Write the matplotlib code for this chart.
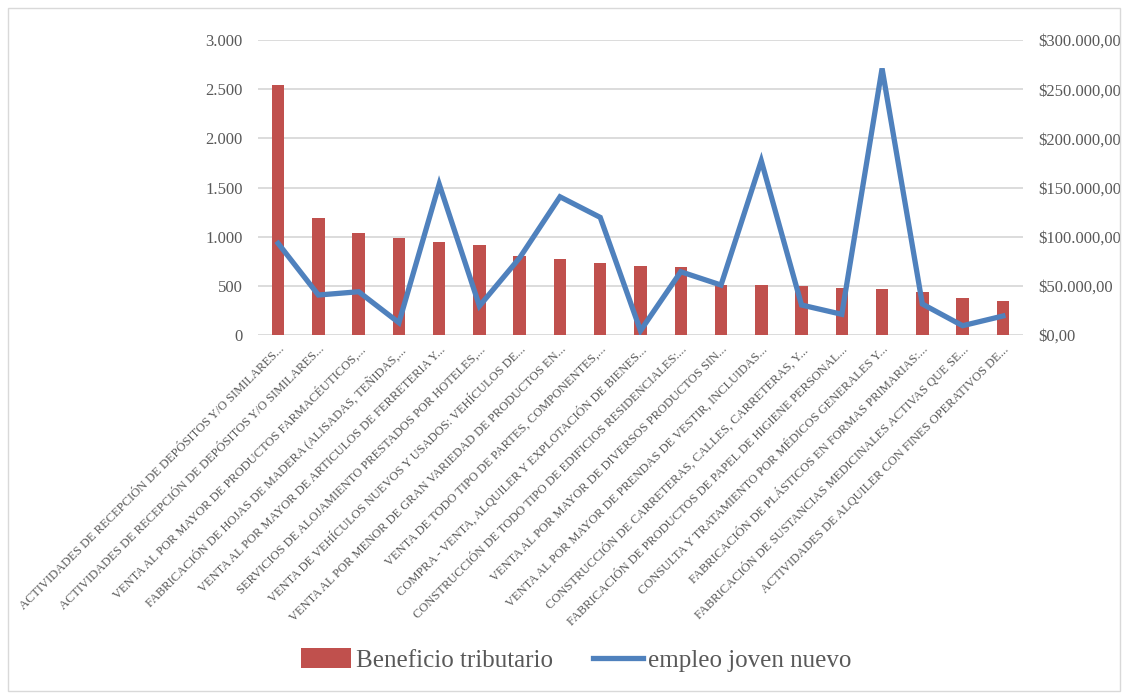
import matplotlib.pyplot as plt
import matplotlib.ticker as mticker
from matplotlib.patches import Rectangle
from matplotlib.lines import Line2D
from matplotlib.patches import Patch

categorias = [
    "ACTIVIDADES DE RECEPCIÓN DE DEPÓSITOS Y/O SIMILARES...",
    "ACTIVIDADES DE RECEPCIÓN DE DEPÓSITOS Y/O SIMILARES...",
    "VENTA AL POR MAYOR DE PRODUCTOS FARMACÉUTICOS,...",
    "FABRICACIÓN DE HOJAS DE MADERA (ALISADAS, TEÑIDAS,...",
    "VENTA AL POR MAYOR DE ARTICULOS DE FERRETERIA Y...",
    "SERVICIOS DE ALOJAMIENTO PRESTADOS POR HOTELES,...",
    "VENTA DE VEHÍCULOS NUEVOS Y USADOS: VEHÍCULOS DE...",
    "VENTA AL POR MENOR DE GRAN VARIEDAD DE PRODUCTOS EN...",
    "VENTA DE TODO TIPO DE PARTES, COMPONENTES,...",
    "COMPRA - VENTA, ALQUILER Y EXPLOTACIÓN DE BIENES...",
    "CONSTRUCCIÓN DE TODO TIPO DE EDIFICIOS RESIDENCIALES:...",
    "VENTA AL POR MAYOR DE DIVERSOS PRODUCTOS SIN...",
    "VENTA AL POR MAYOR DE PRENDAS DE VESTIR, INCLUIDAS...",
    "CONSTRUCCIÓN DE CARRETERAS, CALLES, CARRETERAS, Y...",
    "FABRICACIÓN DE PRODUCTOS DE PAPEL DE HIGIENE PERSONAL...",
    "CONSULTA Y TRATAMIENTO POR MÉDICOS GENERALES Y...",
    "FABRICACIÓN DE PLÁSTICOS EN FORMAS PRIMARIAS:...",
    "FABRICACIÓN DE SUSTANCIAS MEDICINALES ACTIVAS QUE SE...",
    "ACTIVIDADES DE ALQUILER CON FINES OPERATIVOS DE...",
]

beneficio_tributario = [2541, 1186, 1040, 989, 948, 911, 803, 769, 728, 704,
                        691, 508, 508, 498, 478, 471, 437, 379, 346]

empleo_joven_nuevo = [93190, 40650, 44000, 12500, 153450, 29470, 78560, 140550,
                      119600, 4370, 64330, 50800, 177150, 30490, 21040, 271040,
                      31500, 9450, 19300]

rojo = '#C0504D'
azul = '#4F81BD'
gris = '#595959'
serif = ['Liberation Serif', 'DejaVu Serif']

plt.rcParams['font.family'] = serif

fig = plt.figure(figsize=(11.3, 6.93), dpi=100)
ax = fig.add_axes([258 / 1130, 1 - 335 / 693, (1023 - 258) / 1130, (335 - 40) / 693])
ax2 = ax.twinx()

x = list(range(len(categorias)))
ax.bar(x, beneficio_tributario, width=0.31, color=rojo, zorder=2)
ax2.plot(x, empleo_joven_nuevo, color=azul, linewidth=3.8, solid_joinstyle='miter', zorder=3)

ax.set_xlim(-0.5, len(categorias) - 0.5)
ax.set_ylim(0, 3000)
ax2.set_ylim(0, 300000)
ax.yaxis.set_major_locator(mticker.MultipleLocator(500))
ax2.yaxis.set_major_locator(mticker.MultipleLocator(50000))
ax.yaxis.set_major_formatter(mticker.FuncFormatter(lambda v, p: f"{v:,.0f}".replace(",", ".")))
ax2.yaxis.set_major_formatter(mticker.FuncFormatter(
    lambda v, p: "$" + f"{v:,.2f}".replace(",", "X").replace(".", ",").replace("X", ".")))

ax.grid(axis='y', color='#D9D9D9', linewidth=1.3, zorder=0)
ax.set_axisbelow(True)
for a in (ax, ax2):
    for s in a.spines.values():
        s.set_visible(False)
    a.tick_params(length=0, labelsize=12, labelcolor=gris)
ax.tick_params(axis='y', pad=11)
ax2.tick_params(axis='y', pad=11)

ax.set_xticks(x)
ax.set_xticklabels(categorias, rotation=45, ha='right', rotation_mode='anchor', fontsize=9, color=gris)
ax.tick_params(axis='x', pad=6)

ax.set_zorder(ax2.get_zorder() - 1)
ax.patch.set_visible(True)
ax2.patch.set_visible(False)

handles = [Patch(facecolor=rojo, label='Beneficio tributario'),
           Line2D([0], [0], color=azul, linewidth=3.8, label='empleo joven nuevo')]
fig.legend(handles=handles, loc='center', bbox_to_anchor=(0.51, 1 - 660 / 693), ncol=2,
           frameon=False, fontsize=18, labelcolor=gris, handlelength=2.0, handleheight=0.8,
           columnspacing=1.6, handletextpad=0.2)

fig.patches.append(Rectangle((8 / 1130, 2 / 693), 1112 / 1130, 683 / 693, transform=fig.transFigure,
                             fill=False, edgecolor='#D9D9D9', linewidth=1))

fig.savefig('out.png', dpi=100)
